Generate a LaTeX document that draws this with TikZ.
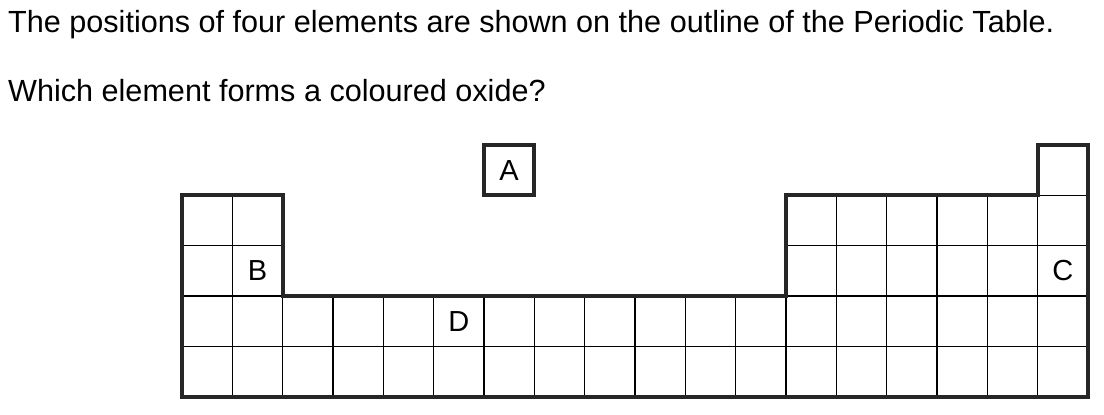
\documentclass[tikz,border=0pt]{standalone}
\usepackage{fontspec}
\setmainfont{Liberation Sans}
\begin{document}
\begin{tikzpicture}[x=1pt,y=-1pt,
  outline/.style={line width=3.8pt,line join=miter,draw=black!85},
  gridline/.style={line width=1.1pt},
  lbl/.style={font=\fontsize{29}{32}\selectfont,inner sep=0pt},
  txt/.style={font=\fontsize{30.6}{34}\selectfont,anchor=base west,inner sep=0pt}]
\useasboundingbox (0,0) rectangle (1104,415);
\def\w{50.333}
\def\xo{182}
\def\yo{145}
% title text
\node[txt] (t1) at (8,32) {The positions of four elements are shown on the outline of the Periodic Table.};
\node[txt] (t2) at (8,101) {Which element forms a coloured oxide?};
% grid lines
% rows 2-3 left block
\draw[gridline] (\xo,\yo+2*\w) -- (\xo+2*\w,\yo+2*\w);
\draw[gridline] (\xo+\w,\yo+\w) -- (\xo+\w,\yo+5*\w);
% rows 2-3 right block
\draw[gridline] (\xo+12*\w,\yo+2*\w) -- (\xo+18*\w,\yo+2*\w);
\draw[gridline] (\xo+17*\w,\yo+\w) -- (\xo+18*\w,\yo+\w);
\foreach \i in {13,...,17} \draw[gridline] (\xo+\i*\w,\yo+\w) -- (\xo+\i*\w,\yo+5*\w);
% rows 4-5
\draw[gridline] (\xo,\yo+3*\w) -- (\xo+18*\w,\yo+3*\w);
\draw[gridline] (\xo,\yo+4*\w) -- (\xo+18*\w,\yo+4*\w);
\foreach \i in {2,...,12} \draw[gridline] (\xo+\i*\w,\yo+3*\w) -- (\xo+\i*\w,\yo+5*\w);
% outline
\draw[outline] (\xo,\yo+\w) -- (\xo+2*\w,\yo+\w) -- (\xo+2*\w,\yo+3*\w) -- (\xo+12*\w,\yo+3*\w)
  -- (\xo+12*\w,\yo+\w) -- (\xo+17*\w,\yo+\w) -- (\xo+17*\w,\yo) -- (\xo+18*\w,\yo)
  -- (\xo+18*\w,\yo+5*\w) -- (\xo,\yo+5*\w) -- cycle;
% box A
\node[draw,outline,minimum width=\w pt,minimum height=\w pt,inner sep=0pt,lbl] (A) at (\xo+6.5*\w,\yo+0.5*\w) {A};
\node[lbl] (B) at (\xo+1.5*\w,\yo+2.5*\w) {B};
\node[lbl] (C) at (\xo+17.5*\w,\yo+2.5*\w) {C};
\node[lbl] (D) at (\xo+5.5*\w,\yo+3.5*\w) {D};
\end{tikzpicture}
\end{document}
